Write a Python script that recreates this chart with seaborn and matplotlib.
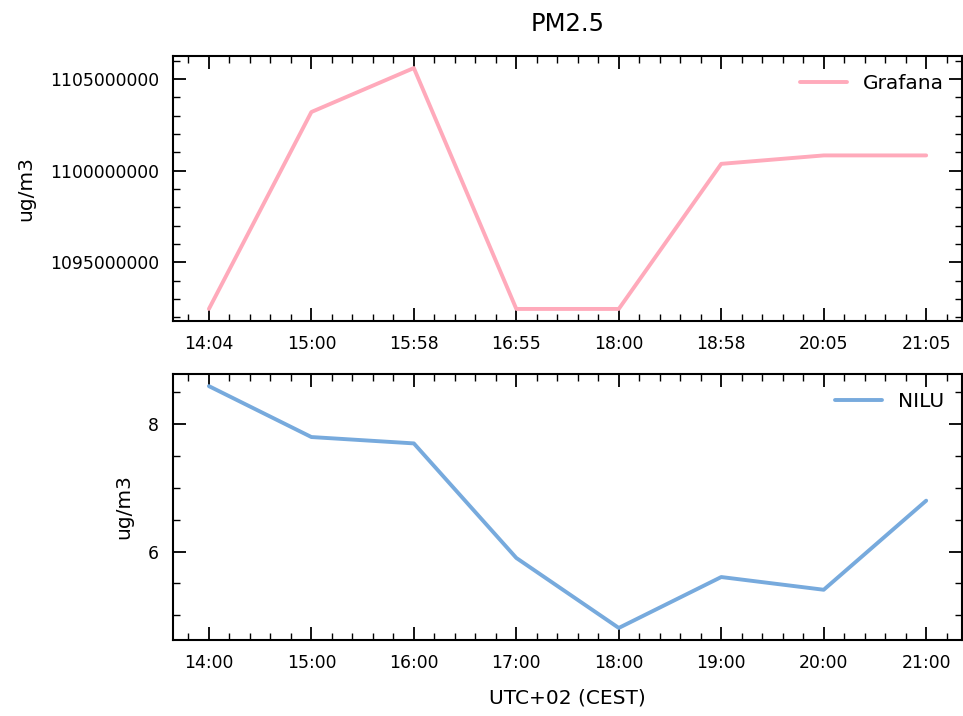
import seaborn as sns
import matplotlib.pyplot as plt
import pandas as pd
from matplotlib.ticker import AutoMinorLocator, MultipleLocator

# Grafana readings (top panel)
grafana_times = ["14:04", "15:00", "15:58", "16:55", "18:00", "18:58", "20:05", "21:05"]
grafana_vals = [1092450000, 1103200000, 1105600000, 1092450000, 1092450000,
                1100370000, 1100830000, 1100830000]

# NILU readings (bottom panel)
nilu_times = ["14:00", "15:00", "16:00", "17:00", "18:00", "19:00", "20:00", "21:00"]
nilu_vals = [8.6, 7.8, 7.7, 5.9, 4.8, 5.6, 5.4, 6.8]

grafana = pd.DataFrame({"time": grafana_times, "pm25": grafana_vals})
nilu = pd.DataFrame({"time": nilu_times, "pm25": nilu_vals})

sns.set_style("ticks")
plt.rcParams.update({
    "font.family": "DejaVu Sans",
    "text.color": "black", "axes.labelcolor": "black",
    "xtick.direction": "in", "ytick.direction": "in",
    "xtick.top": True, "ytick.right": True,
    "xtick.major.size": 9.5, "ytick.major.size": 9.5,
    "xtick.minor.size": 5, "ytick.minor.size": 5,
    "xtick.major.width": 1.3, "ytick.major.width": 1.3,
    "xtick.minor.width": 1.0, "ytick.minor.width": 1.0,
    "xtick.major.pad": 10, "ytick.major.pad": 10,
    "axes.linewidth": 1.5,
    "axes.edgecolor": "black",
    "xtick.color": "black", "ytick.color": "black",
})

fig = plt.figure(figsize=(9.63, 7.16), dpi=100)
ax1 = fig.add_axes([0.1797, 0.5517, 0.8193, 0.3701])
ax2 = fig.add_axes([0.1797, 0.1061, 0.8193, 0.3715])

sns.lineplot(data=grafana, x="time", y="pm25", ax=ax1, color="#FFAABB",
             linewidth=2.8, label="Grafana")
sns.lineplot(data=nilu, x="time", y="pm25", ax=ax2, color="#77AADD",
             linewidth=2.8, label="NILU")

ax1.ticklabel_format(axis="y", useOffset=False, style="plain")
ax1.yaxis.set_major_locator(MultipleLocator(5000000))
ax1.yaxis.set_minor_locator(AutoMinorLocator(5))
ax2.yaxis.set_major_locator(MultipleLocator(2))
ax2.yaxis.set_minor_locator(AutoMinorLocator(4))

for ax in (ax1, ax2):
    ax.xaxis.set_minor_locator(AutoMinorLocator(5))
    ax.tick_params(which="both", top=True, right=True, direction="in")
    ax.tick_params(labelsize=12.4)
    ax.set_ylabel("ug/m3", fontsize=14.5, labelpad=11)
    ax.set_xlabel("")
    ax.legend(loc="upper right", frameon=False, fontsize=14.5, handlelength=2.3)

ax2.set_xlabel("UTC+02 (CEST)", fontsize=14.5, labelpad=12)
ax1.set_title("PM2.5", fontsize=17.5, pad=18)

plt.savefig("out.png", dpi=100)
